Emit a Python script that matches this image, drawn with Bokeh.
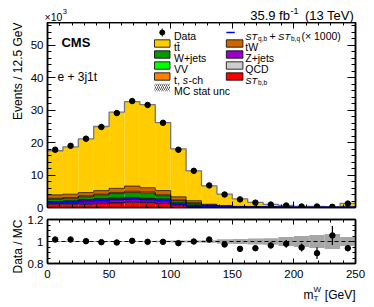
import numpy as np
from bokeh.plotting import figure
from bokeh.models import Range1d, LinearAxis, Label, FixedTicker, Span, NumeralTickFormatter, CustomJSTickFormatter
from bokeh.layouts import column, row
from bokeh.embed import file_html
from bokeh.resources import INLINE

# ---------------- data (values in units of 10^3 events) ----------------
bin_lo = [0.0, 12.5, 25.0, 37.5, 50.0, 62.5, 75.0, 87.5, 100.0, 112.5,
          125.0, 137.5, 150.0, 162.5, 175.0, 187.5, 200.0, 212.5, 225.0, 237.5]
bin_hi = [12.5, 25.0, 37.5, 50.0, 62.5, 75.0, 87.5, 100.0, 112.5, 125.0,
          137.5, 150.0, 162.5, 175.0, 187.5, 200.0, 212.5, 225.0, 237.5, 250.0]

data = [17.8, 19.0, 21.2, 24.8, 29.1, 32.8, 31.6, 26.1, 17.8, 11.3,
        6.8, 4.0, 2.5, 1.5, 0.9, 0.6, 0.3, 0.3, 0.2, 1.2]
ratio = [1.018, 1.018, 1.003, 0.994, 0.991, 1.006, 0.997, 0.997, 0.985, 1.0,
         1.018, 0.973, 0.933, 0.939, 0.964, 0.979, 0.945, 0.894, 1.055, 0.939]
ratio_err = [0.003, 0.003, 0.003, 0.003, 0.003, 0.003, 0.003, 0.004, 0.005, 0.006,
             0.008, 0.011, 0.018, 0.024, 0.026, 0.035, 0.036, 0.053, 0.086, 0.027]
mc_unc = [0.004, 0.004, 0.004, 0.004, 0.004, 0.004, 0.005, 0.006, 0.008, 0.009,
          0.011, 0.02, 0.022, 0.028, 0.03, 0.04, 0.05, 0.06, 0.068, 0.04]

st_bb = [1.0, 1.0, 1.0, 1.2, 1.4, 1.6, 1.5, 1.2, 0.7, 0.3,
         0.15, 0.08, 0.05, 0.03, 0.02, 0.015, 0.01, 0.01, 0.01, 0.01]
qcd = [0.15, 0.15, 0.15, 0.15, 0.15, 0.15, 0.15, 0.12, 0.08, 0.05,
       0.03, 0.02, 0.02, 0.01, 0.01, 0.01, 0.01, 0.01, 0.01, 0.01]
zjets = [0.55, 0.75, 1.15, 1.25, 1.25, 1.15, 1.05, 1.18, 0.52, 0.35,
         0.22, 0.15, 0.08, 0.06, 0.05, 0.035, 0.03, 0.02, 0.01, 0.02]
vv = [0.1, 0.1, 0.12, 0.13, 0.15, 0.15, 0.14, 0.12, 0.08, 0.05,
      0.03, 0.02, 0.01, 0.01, 0.01, 0.01, 0.005, 0.005, 0.005, 0.005]
wjets = [0.8, 0.8, 0.88, 1.07, 1.35, 1.55, 1.56, 1.0, 0.72, 0.55,
         0.27, 0.13, 0.09, 0.04, 0.03, 0.03, 0.02, 0.02, 0.01, 0.02]
tsch = [0.25, 0.25, 0.28, 0.3, 0.35, 0.4, 0.38, 0.3, 0.2, 0.12,
        0.06, 0.04, 0.02, 0.02, 0.01, 0.01, 0.01, 0.01, 0.01, 0.01]
tw = [1.05, 1.05, 1.02, 1.1, 1.25, 1.6, 1.32, 1.3, 1.0, 0.68,
      0.24, 0.16, 0.08, 0.08, 0.06, 0.04, 0.03, 0.03, 0.02, 0.03]
sig_x1000 = [1.4, 1.5, 1.8, 2.1, 2.4, 2.5, 2.4, 2.1, 1.1, 0.55,
             0.3, 0.2, 0.12, 0.08, 0.06, 0.05, 0.04, 0.03, 0.03, 0.03]

x_major = [0, 50, 100, 150, 200, 250]
x_minor = list(range(0, 251, 10))
y_major = [0, 10, 20, 30, 40, 50]
y_minor = list(range(0, 57, 2))
r_major = [0.8, 1.0, 1.2]
r_minor = [0.85, 0.9, 0.95, 1.05, 1.1, 1.15]

# ---------------- derived ----------------
lo = np.array(bin_lo); hi = np.array(bin_hi)
centers = (lo + hi) / 2
others = [st_bb, qcd, zjets, vv, wjets, tsch, tw]
mc_total = np.array(data) / np.array(ratio)
ttbar = mc_total - np.sum(np.array(others), axis=0)

FONT = "Liberation Sans"
CW = {' ': .278, '(': .333, ')': .333, '×': .584, '.': .278, ',': .278, '+': .584,
      '-': .333, '/': .278, '[': .278, ']': .278, 'a': .556, 'b': .556, 'c': .5,
      'd': .556, 'e': .556, 'f': .278, 'h': .556, 'i': .222, 'j': .222, 'l': .222,
      'm': .833, 'n': .556, 'q': .556, 'r': .333, 's': .5, 't': .278, 'u': .556,
      'C': .722, 'D': .722, 'G': .778, 'M': .833, 'Q': .778, 'S': .667, 'T': .611,
      'V': .667, 'W': .944, 'Z': .611}


def tw_(s, size):
    return sum(CW.get(c, 0.556) for c in s) * size


# ---------------- page geometry (pixels) ----------------
W_PAGE = 374
TOP_H = 22          # strip with x10^3 and luminosity
STRIP_W = 24        # strip with the y titles
P1_H = 192          # main panel figure (frame 22..207 on page)
P2_H = 69           # ratio panel figure (frame 219..263 on page)
BOT_H = 22          # strip with the x title
FX0, FX1 = 45.0, 355.0
MY0, MY1 = 207.0, 22.0
RY_TOP, RY_BOT = 219, 263
P1_TOP = TOP_H
P2_TOP = TOP_H + P1_H
BOT_TOP = P2_TOP + P2_H


def mx(px):
    return (px - FX0) / (FX1 - FX0) * 250.0


def my(py):
    return (MY0 - py) / (MY0 - MY1) * 57.0


def style_axis(ax, tin, tmin, labels=True, size="11px", standoff=4):
    ax.major_tick_in = tin
    ax.major_tick_out = 0
    ax.minor_tick_in = tmin
    ax.minor_tick_out = 0
    ax.axis_line_color = "black"
    ax.axis_line_width = 1.5
    ax.major_tick_line_color = "black"
    ax.minor_tick_line_color = "black"
    ax.major_tick_line_width = 1
    ax.minor_tick_line_width = 1
    if labels:
        ax.major_label_text_font = FONT
        ax.major_label_text_font_size = size
        ax.major_label_text_color = "black"
        ax.major_label_standoff = standoff
    else:
        ax.formatter = CustomJSTickFormatter(code="return ''")
        ax.major_label_text_font_size = "1px"
        ax.major_label_standoff = 0


def add_text(fig, x, y, text, size, style="normal", align="left", angle=0.0):
    fig.add_layout(Label(x=x, y=y, text=text, text_font=FONT, text_font_size=f"{size}px",
                         text_font_style=style, text_align=align, text_baseline="alphabetic",
                         text_color="black", angle=angle))


def add_ctext(fig, fig_left, fig_top, px, py, text, size, style="normal", align="left", angle=0.0):
    # canvas units: x from the left, y from the top of the figure canvas
    fig.add_layout(Label(x=px - fig_left, y=py - fig_top, x_units="canvas", y_units="canvas",
                         text=text, text_font=FONT, text_font_size=f"{size}px",
                         text_font_style=style, text_align=align, text_baseline="alphabetic",
                         text_color="black", angle=angle))


def rich(fig, px, py, parts, fx, fy):
    cur = px
    for text, size, style, dy, gap in parts:
        cur += gap
        add_text(fig, fx(cur), fy(py + dy), text, size, style)
        cur += tw_(text, size)


def rich_c(fig, fig_left, fig_top, px, py, parts):
    cur = px
    for text, size, style, dy, gap in parts:
        cur += gap
        add_ctext(fig, fig_left, fig_top, cur, py + dy, text, size, style)
        cur += tw_(text, size)


def text_strip(w, h):
    f = figure(width=w, height=h, x_range=Range1d(0, 1), y_range=Range1d(0, 1),
               output_backend="svg", toolbar_location=None, title=None,
               x_axis_location=None, y_axis_location=None, min_border=0)
    f.grid.visible = False
    f.outline_line_color = None
    return f


# ---------------- main panel ----------------
p1 = figure(width=W_PAGE - STRIP_W, height=P1_H, x_range=Range1d(0, 250), y_range=Range1d(0, 57),
            output_backend="svg", toolbar_location=None,
            min_border_left=int(FX0 - STRIP_W), min_border_right=int(W_PAGE - FX1),
            min_border_top=int(MY1 - P1_TOP), min_border_bottom=int(P1_TOP + P1_H - MY0))
p1.grid.visible = False
p1.outline_line_color = "black"
p1.outline_line_width = 1.5

p1.xaxis.ticker = FixedTicker(ticks=x_major, minor_ticks=x_minor)
p1.yaxis.ticker = FixedTicker(ticks=y_major, minor_ticks=y_minor)
style_axis(p1.xaxis[0], 6, 3, labels=False)
style_axis(p1.yaxis[0], 8, 4, labels=True, size="11.5px", standoff=4)
ax_top = LinearAxis(ticker=FixedTicker(ticks=x_major, minor_ticks=x_minor))
style_axis(ax_top, 6, 3, labels=False)
p1.add_layout(ax_top, "above")
ax_right = LinearAxis(ticker=FixedTicker(ticks=y_major, minor_ticks=y_minor))
style_axis(ax_right, 8, 4, labels=False)
p1.add_layout(ax_right, "right")

layers = [(st_bb, "#ff0000"), (qcd, "#cccccc"), (zjets, "#9900cc"), (vv, "#00ff00"),
          (wjets, "#009900"), (tsch, "#ff7f00"), (tw, "#cc6600"), (ttbar, "#ffcc00")]
bottom = np.zeros(len(bin_lo))
tops = []
for vals, col in layers:
    top = bottom + np.array(vals)
    p1.quad(left=lo, right=hi, bottom=bottom, top=top, fill_color=col, line_color=None)
    tops.append(top)
    bottom = top

step_x = [0.0] + bin_lo + [250.0, 250.0]
for i, top in enumerate(tops):
    sy = [0.0] + list(top) + [top[-1], 0.0]
    last = i == len(tops) - 1
    p1.step(step_x, sy, mode="after", line_color="#777777" if last else "black",
            line_width=1.3 if last else 0.7)

p1.step(bin_lo + [250.0], list(sig_x1000) + [sig_x1000[-1]], mode="after",
        line_color="#0000ff", line_width=1.6)
p1.scatter(centers, data, size=5.5, color="black")

add_text(p1, mx(59), my(42.3), "CMS", 13, "bold")
add_text(p1, mx(55), my(76), "e + 3j1t", 12)

# legend
rows = [32, 43, 54, 65, 76, 87]
LS = 10.5
bh = 3.7


def box(xl, xr, yc, color, hatch=False):
    if hatch:
        p1.quad(left=mx(xl), right=mx(xr), bottom=my(yc + bh), top=my(yc - bh),
                fill_color="white", line_color=None, hatch_pattern="/",
                hatch_color="#555555", hatch_scale=4, hatch_weight=1)
    else:
        p1.quad(left=mx(xl), right=mx(xr), bottom=my(yc + bh), top=my(yc - bh),
                fill_color=color, line_color="black", line_width=0.8)


c1b, c1t = (152.7, 168.3), 172.3
c2b, c2t = (225.0, 241.7), 244.0
p1.scatter([mx(160.5)], [my(rows[0])], size=5, color="black")
p1.segment([mx(160.5)], [my(rows[0] - 4)], [mx(160.5)], [my(rows[0] + 4)], line_color="black", line_width=1)
add_text(p1, mx(c1t), my(rows[0] + 3.7), "Data", LS)
box(*c1b, rows[1], "#ffcc00")
add_text(p1, mx(c1t), my(rows[1] + 3.7), "tt\u0304", LS)
box(*c1b, rows[2], "#009900")
add_text(p1, mx(c1t), my(rows[2] + 3.7), "W+jets", LS)
box(*c1b, rows[3], "#00ff00")
add_text(p1, mx(c1t), my(rows[3] + 3.7), "VV", LS)
box(*c1b, rows[4], "#ff7f00")
rich(p1, c1t, rows[4] + 3.7, [("t,", LS, "normal", 0, 0), ("s", LS, "italic", 0, tw_(" ", LS)),
                              ("-ch", LS, "normal", 0, 0.5)], mx, my)
box(*c1b, rows[5], None, hatch=True)
add_text(p1, mx(c1t), my(rows[5] + 3.7), "MC stat unc", LS)
p1.segment([mx(225)], [my(rows[0])], [mx(233.5)], [my(rows[0])], line_color="#0000ff", line_width=1.6)
rich(p1, c2t, rows[0] + 3.7, [("ST", 9.5, "italic", 0, 0), ("q,b", 6.5, "normal", 2, 0.8),
                              ("+", LS, "normal", 0, 2.5), ("ST", 9.5, "italic", 0, 2.5),
                              ("b,q", 6.5, "normal", 2, 0.8), ("(× 1000)", LS, "normal", 0, 1.5)], mx, my)
box(*c2b, rows[1], "#cc6600")
add_text(p1, mx(c2t), my(rows[1] + 3.7), "tW", LS)
box(*c2b, rows[2], "#9900cc")
add_text(p1, mx(c2t), my(rows[2] + 3.7), "Z+jets", LS)
box(*c2b, rows[3], "#cccccc")
add_text(p1, mx(c2t), my(rows[3] + 3.7), "QCD", LS)
box(*c2b, rows[4], "#ff0000")
rich(p1, c2t, rows[4] + 3.7, [("ST", 9.5, "italic", 0, 0), ("b,b", 6.5, "normal", 2, 0.8)], mx, my)

# ---------------- ratio panel ----------------
p2 = figure(width=W_PAGE - STRIP_W, height=P2_H, x_range=Range1d(0, 250), y_range=Range1d(0.8, 1.2),
            output_backend="svg", toolbar_location=None,
            min_border_left=int(FX0 - STRIP_W), min_border_right=int(W_PAGE - FX1),
            min_border_top=RY_TOP - P2_TOP, min_border_bottom=P2_TOP + P2_H - RY_BOT)
p2.grid.visible = False
p2.outline_line_color = "black"
p2.outline_line_width = 1.5
p2.xaxis.ticker = FixedTicker(ticks=x_major, minor_ticks=x_minor)
p2.yaxis.ticker = FixedTicker(ticks=r_major, minor_ticks=r_minor)
p2.yaxis.formatter = NumeralTickFormatter(format="0.[0]")
style_axis(p2.xaxis[0], 5, 3, labels=True, size="11.5px", standoff=6)
style_axis(p2.yaxis[0], 5, 3, labels=True, size="11.5px", standoff=4)
ax_top2 = LinearAxis(ticker=FixedTicker(ticks=x_major, minor_ticks=x_minor))
style_axis(ax_top2, 5, 3, labels=False)
p2.add_layout(ax_top2, "above")
ax_right2 = LinearAxis(ticker=FixedTicker(ticks=r_major, minor_ticks=r_minor))
style_axis(ax_right2, 5, 3, labels=False)
p2.add_layout(ax_right2, "right")

unc = np.array(mc_unc)
p2.quad(left=lo, right=hi, bottom=1 - unc, top=1 + unc, fill_color="#a6a6a6", line_color=None)
p2.add_layout(Span(location=1.0, dimension="width", line_color="black", line_dash="4 3", line_width=1))
r = np.array(ratio); re = np.array(ratio_err)
p2.segment(centers, r - re, centers, r + re, line_color="black", line_width=1.2)
p2.scatter(centers, r, size=5.5, color="black")

# ---------------- text strips ----------------
top_fig = text_strip(W_PAGE, TOP_H)
add_ctext(top_fig, 0, 0, 44, 16.5, "×10", 10.5)
add_ctext(top_fig, 0, 0, 44.5 + tw_("×10", 10.5), 10.5, "3", 7.5)
lumi_parts = [("35.9 fb", 13, "normal", 0, 0), ("-1", 9, "normal", -5, 0.5),
              ("(13 TeV)", 13, "normal", 0, 6.5)]
total_w = sum(tw_(t, s) + g for t, s, _, _, g in lumi_parts)
rich_c(top_fig, 0, 0, 355 - total_w, 15.0, lumi_parts)

strip = text_strip(STRIP_W, P1_H + P2_H)
add_ctext(strip, 0, P1_TOP, 17.5, MY1, "Events / 12.5 GeV", 12, align="right", angle=np.pi / 2)
add_ctext(strip, 0, P1_TOP, 17.5, RY_TOP, "Data / MC", 12, align="right", angle=np.pi / 2)

bot_fig = text_strip(W_PAGE, BOT_H)
gev_w = tw_(" [GeV]", 12)
x_gev = 355 - gev_w
add_ctext(bot_fig, 0, BOT_TOP, 355, 294, "[GeV]", 12, align="right")
add_ctext(bot_fig, 0, BOT_TOP, x_gev - 8, 288.5, "W", 8)
add_ctext(bot_fig, 0, BOT_TOP, x_gev - 8, 298, "T", 8)
add_ctext(bot_fig, 0, BOT_TOP, x_gev - 8, 294, "m", 12, align="right")

layout = column(top_fig, row(strip, column(p1, p2)), bot_fig)
open("out.html", "w").write(file_html(layout, INLINE))
